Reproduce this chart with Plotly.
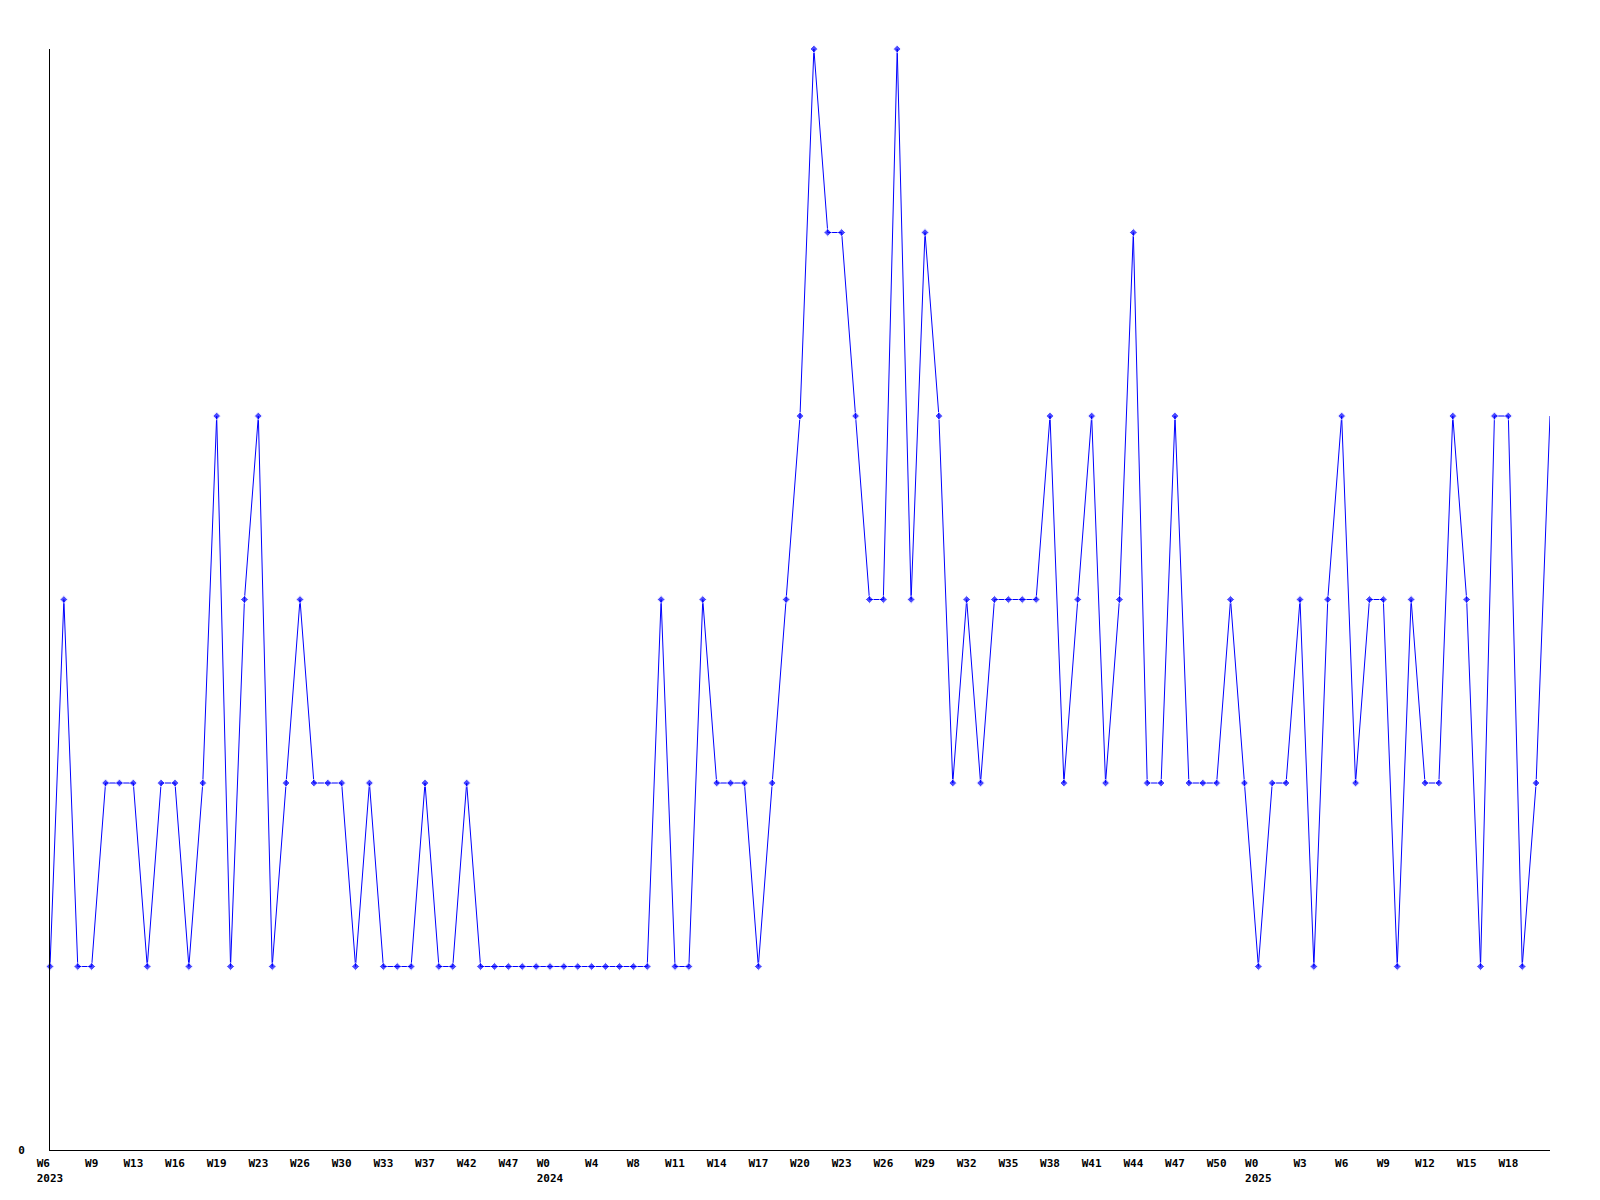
import plotly.graph_objects as go

# Values per point (109 weekly-ish samples)
values = [
    1, 3, 1, 1, 2, 2, 2, 1, 2, 2, 1, 2, 4, 1, 3, 4, 1, 2, 3, 2, 2,
    2, 1, 2, 1, 1, 1, 2, 1, 1, 2, 1,
    1, 1, 1, 1, 1, 1, 1, 1, 1, 1, 1, 1,
    3, 1, 1, 3, 2, 2, 2, 1, 2, 3, 4, 6, 5, 5, 4, 3, 3, 6, 3, 5,
    4, 2, 3, 2, 3, 3, 3, 3, 4, 2, 3, 4, 2, 3, 5, 2, 2, 4, 2, 2, 2, 3, 2, 1,
    2, 2, 3, 1, 3, 4, 2, 3, 3, 1, 3, 2, 2, 4, 3, 1, 4, 4, 1, 2, 4,
]

# Tick labels (one every 3 points)
week_labels = [
    "W6", "W9", "W13", "W16", "W19", "W23", "W26", "W30", "W33", "W37", "W42", "W47",
    "W0", "W4", "W8", "W11", "W14", "W17", "W20", "W23", "W26", "W29", "W32", "W35",
    "W38", "W41", "W44", "W47", "W50",
    "W0", "W3", "W6", "W9", "W12", "W15", "W18",
]
year_labels = {0: "2023", 12: "2024", 29: "2025"}

x = list(range(len(values)))
tickvals = [i * 3 for i in range(len(week_labels))]
ticktext = []
for i, w in enumerate(week_labels):
    if i in year_labels:
        pad = "\u00a0" * (len(year_labels[i]) - len(w))
        ticktext.append(w + pad + "<br>" + year_labels[i])
    else:
        ticktext.append(w)

marker_sizes = [6] * (len(values) - 1) + [0]

fig = go.Figure()
fig.add_trace(go.Scatter(
    x=x, y=values, mode="lines+markers",
    line=dict(color="#0000ff", width=1),
    marker=dict(symbol="diamond", size=marker_sizes, color="#0000ff"),
    cliponaxis=False,
    hoverinfo="x+y",
))

mono = dict(family="DejaVu Sans Mono", size=11, color="#000000", weight="bold")

# page body adds an 8px margin around the figure
fig.update_layout(
    width=1584, height=1184,
    margin=dict(l=42, r=42, t=41, b=42, autoexpand=False),
    paper_bgcolor="#ffffff", plot_bgcolor="#ffffff",
    showlegend=False,
    font=mono,
    xaxis=dict(
        range=[0, len(values) - 1],
        tickmode="array", tickvals=tickvals, ticktext=ticktext,
        showgrid=False, zeroline=False,
        showline=True, linecolor="#000000", linewidth=1,
        ticks="", ticklabelstandoff=3,
        tickfont=mono, automargin=False,
        fixedrange=True,
    ),
    yaxis=dict(
        range=[0, 6],
        tickmode="array", tickvals=[0], ticktext=["0"],
        showgrid=False, zeroline=False,
        showline=True, linecolor="#000000", linewidth=1,
        ticks="", ticklabelstandoff=22,
        tickfont=mono, automargin=False,
        fixedrange=True,
    ),
)

fig.write_html("out.html")
